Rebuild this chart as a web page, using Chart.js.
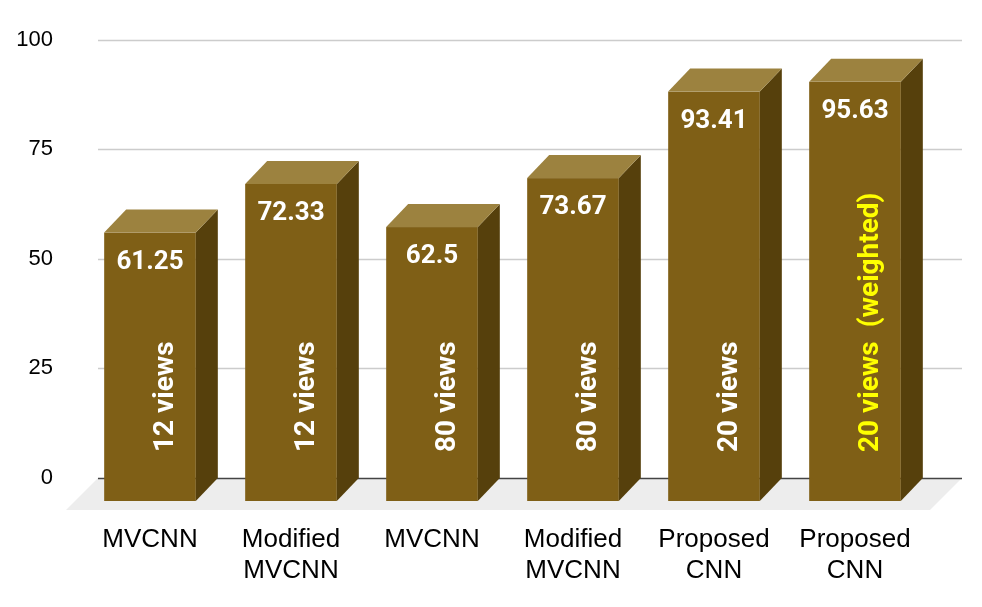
<!DOCTYPE html>
<html>
<head>
<meta charset="utf-8">
<script src="https://cdn.jsdelivr.net/npm/chart.js@4.4.1/dist/chart.umd.min.js"></script>
<style>
  html, body { margin: 0; padding: 0; background: #fff; }
  canvas { display: block; }
</style>
</head>
<body>
<canvas id="accuracyChart" width="982" height="607"></canvas>
<script>
const categories = [
    ['MVCNN'],
    ['Modified', 'MVCNN'],
    ['MVCNN'],
    ['Modified', 'MVCNN'],
    ['Proposed', 'CNN'],
    ['Proposed', 'CNN']
];
const accuracy = [61.25, 72.33, 62.5, 73.67, 93.41, 95.63];
const viewLabels = ['12 views', '12 views', '80 views', '80 views', '20 views', '20 views  (weighted)'];
const yTicks = [0, 25, 50, 75, 100];

// the last label is highlighted in yellow
const viewLabelColors = ['#ffffff', '#ffffff', '#ffffff', '#ffffff', '#ffffff', '#ffff00'];

const DX = 22;   // depth of the bars
const DY = 23;

const bars3d = {
    id: 'bars3d',
    beforeDatasetsDraw(chart) {
        const { ctx, chartArea, scales } = chart;
        const y0 = scales.y.getPixelForValue(0);
        const left = chartArea.left + 18.5;
        const right = chartArea.right + 36.5;

        // floor
        ctx.save();
        ctx.fillStyle = '#ededed';
        ctx.beginPath();
        ctx.moveTo(left, y0);
        ctx.lineTo(right, y0);
        ctx.lineTo(right - 32, y0 + 32);
        ctx.lineTo(left - 32, y0 + 32);
        ctx.closePath();
        ctx.fill();

        // grid lines
        yTicks.forEach(v => {
            const y = Math.round(scales.y.getPixelForValue(v)) + 0.5;
            ctx.strokeStyle = v === 0 ? '#444444' : '#cccccc';
            ctx.lineWidth = 1.5;
            ctx.beginPath();
            ctx.moveTo(left, y);
            ctx.lineTo(right, y);
            ctx.stroke();
        });
        ctx.restore();
    },
    afterDatasetsDraw(chart) {
        const { ctx } = chart;
        const meta = chart.getDatasetMeta(0);
        ctx.save();
        meta.data.forEach((bar, i) => {
            const w = bar.width;
            const xl = bar.x - w / 2;
            const xr = bar.x + w / 2;
            const top = bar.y + DY;
            const bottom = bar.base + DY;

            // front
            ctx.fillStyle = '#7f5f16';
            ctx.fillRect(xl, top, w, bottom - top);

            // side
            ctx.fillStyle = '#56400c';
            ctx.beginPath();
            ctx.moveTo(xr, top);
            ctx.lineTo(xr + DX, bar.y);
            ctx.lineTo(xr + DX, bar.base);
            ctx.lineTo(xr, bottom);
            ctx.closePath();
            ctx.fill();

            // top
            ctx.fillStyle = '#9c823f';
            ctx.beginPath();
            ctx.moveTo(xl, top);
            ctx.lineTo(xr, top);
            ctx.lineTo(xr + DX, bar.y);
            ctx.lineTo(xl + DX, bar.y);
            ctx.closePath();
            ctx.fill();

            // value
            ctx.fillStyle = '#ffffff';
            ctx.font = 'bold 26px Roboto';
            ctx.textAlign = 'center';
            ctx.textBaseline = 'alphabetic';
            ctx.fillText(String(accuracy[i]), bar.x, top + 36);

            // rotated view count
            ctx.save();
            ctx.translate(bar.x + 23, bar.base - 26);
            ctx.rotate(-Math.PI / 2);
            ctx.fillStyle = viewLabelColors[i];
            ctx.font = 'bold 28px Roboto';
            ctx.textAlign = 'left';
            ctx.fillText(viewLabels[i], 0, 0);
            ctx.restore();
        });
        ctx.restore();
    }
};

new Chart(document.getElementById('accuracyChart'), {
    type: 'bar',
    data: {
        labels: categories,
        datasets: [{
            data: accuracy,
            backgroundColor: 'rgba(0,0,0,0)',
            borderWidth: 0,
            categoryPercentage: 1,
            barPercentage: 0.65
        }]
    },
    options: {
        responsive: false,
        animation: false,
        devicePixelRatio: 1,
        layout: { padding: { top: 38, right: 56.5, left: 0, bottom: 0 } },
        plugins: {
            legend: { display: false },
            tooltip: { enabled: false }
        },
        scales: {
            x: {
                grid: { display: false, drawTicks: false },
                border: { display: false },
                ticks: {
                    color: '#000',
                    font: { family: 'Liberation Sans', size: 26 },
                    padding: 46,
                    maxRotation: 0,
                    autoSkip: false
                },
                afterFit(scale) { scale.height = 129; }
            },
            y: {
                min: 0,
                max: 100,
                grid: { display: false, drawTicks: false },
                border: { display: false },
                ticks: {
                    stepSize: 25,
                    color: '#000',
                    font: { family: 'Liberation Sans', size: 22 },
                    padding: 26.5
                },
                afterFit(scale) { scale.width = 79.5; }
            }
        }
    },
    plugins: [bars3d]
});
</script>
</body>
</html>
